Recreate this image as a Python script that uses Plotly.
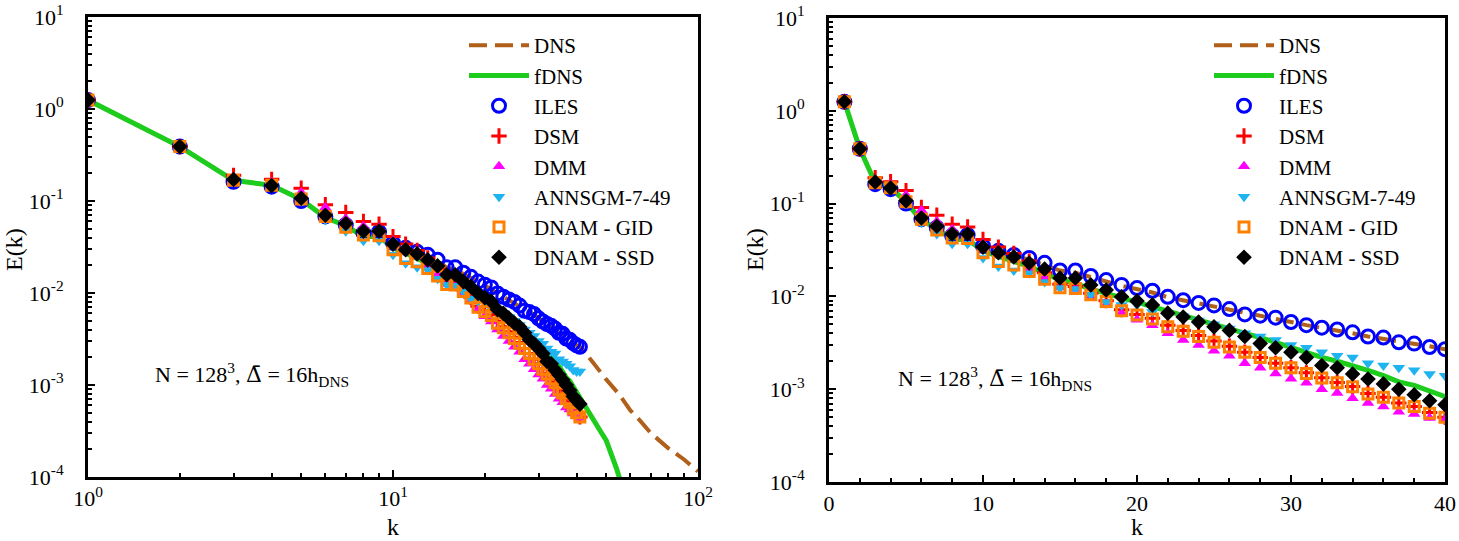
import plotly.graph_objects as go

# ---------------- data ----------------
k_models = list(range(1, 42))

ILES = [1.25, 0.39, 0.162, 0.143, 0.100, 0.068, 0.055, 0.045, 0.046, 0.035,
        0.031, 0.028, 0.026, 0.023, 0.019, 0.019, 0.0166, 0.015, 0.0133, 0.0123,
        0.0115, 0.0099, 0.0091, 0.0085, 0.0080, 0.0073, 0.0064, 0.0062, 0.0059, 0.0053,
        0.0049, 0.0046, 0.0044, 0.0041, 0.0037, 0.0036, 0.0032, 0.0031, 0.00285, 0.0027,
        0.0026]
DSM = [1.25, 0.39, 0.19, 0.172, 0.138, 0.091, 0.075, 0.060, 0.056, 0.041,
       0.034, 0.029, 0.024, 0.018, 0.0135, 0.0128, 0.0108, 0.0090, 0.0072, 0.0064,
       0.0058, 0.0049, 0.0043, 0.0038, 0.0033, 0.0029, 0.0025, 0.0022, 0.0019, 0.0017,
       0.0015, 0.00133, 0.00118, 0.00107, 0.00090, 0.00082, 0.00071, 0.00065, 0.00056, 0.00050,
       0.00045]
DMM = [1.25, 0.39, 0.18, 0.16, 0.124, 0.085, 0.064, 0.053, 0.051, 0.037,
       0.031, 0.025, 0.020, 0.016, 0.0125, 0.012, 0.0098, 0.0082, 0.0066, 0.0056,
       0.0049, 0.0040, 0.0034, 0.0030, 0.0026, 0.0023, 0.0019, 0.0017, 0.00148, 0.0013,
       0.00117, 0.0010, 0.00091, 0.00080, 0.00071, 0.00065, 0.00057, 0.00054, 0.00049, 0.00047,
       0.00044]
ANNSGM = [1.25, 0.39, 0.17, 0.145, 0.100, 0.062, 0.047, 0.037, 0.037, 0.026,
          0.021, 0.019, 0.0178, 0.0143, 0.0123, 0.012, 0.0104, 0.0087, 0.0081, 0.0081,
          0.0068, 0.0066, 0.0061, 0.0055, 0.0050, 0.0045, 0.0040, 0.0037, 0.0034, 0.0030,
          0.0028, 0.0025, 0.0023, 0.0022, 0.0019, 0.0018, 0.0017, 0.0016, 0.00146, 0.0014,
          0.0014]
GID = [1.25, 0.39, 0.168, 0.148, 0.105, 0.068, 0.052, 0.0427, 0.042, 0.0295,
       0.0237, 0.0218, 0.0185, 0.0153, 0.0124, 0.0122, 0.0104, 0.0088, 0.0070, 0.0063,
       0.0057, 0.0047, 0.0042, 0.0037, 0.0032, 0.00285, 0.0025, 0.0022, 0.0019, 0.0017,
       0.00148, 0.00132, 0.00117, 0.00106, 0.00089, 0.00082, 0.00071, 0.00065, 0.00055, 0.00050,
       0.00045]
SSD = [1.25, 0.39, 0.171, 0.147, 0.107, 0.070, 0.057, 0.047, 0.047, 0.034,
       0.0295, 0.0266, 0.0229, 0.0197, 0.0158, 0.0158, 0.0133, 0.0117, 0.0099, 0.0089,
       0.0081, 0.0066, 0.0060, 0.0053, 0.0047, 0.0043, 0.0037, 0.0031, 0.0028, 0.0025,
       0.0022, 0.0018, 0.0017, 0.00146, 0.00129, 0.00114, 0.0010, 0.00087, 0.00075, 0.00068,
       0.00062]

k_fdns = list(range(1, 43)) + [45, 48, 50, 52, 54, 56]
fDNS = [1.25, 0.39, 0.168, 0.148, 0.104, 0.066, 0.054, 0.041, 0.041, 0.031,
        0.027, 0.024, 0.021, 0.018, 0.015, 0.0138, 0.012, 0.0108, 0.0097, 0.0087,
        0.0078, 0.0069, 0.0062, 0.0055, 0.0050, 0.0045, 0.0040, 0.0036, 0.0032, 0.0028,
        0.0025, 0.0022, 0.0020, 0.0018, 0.0016, 0.0014, 0.0012, 0.0011, 0.00095, 0.00083,
        0.00072, 0.00063, 0.00043, 0.00031, 0.00025, 0.00018, 0.000125, 0.000085]

k_dns = list(range(1, 43)) + [45, 50, 55, 60, 65, 70, 80, 90, 100]
DNS = [1.25, 0.39, 0.168, 0.148, 0.104, 0.066, 0.054, 0.041, 0.041, 0.031,
       0.030, 0.027, 0.025, 0.022, 0.019, 0.018, 0.016, 0.0145, 0.013, 0.012,
       0.011, 0.0098, 0.0091, 0.0084, 0.0078, 0.0072, 0.0066, 0.0062, 0.0058, 0.0053,
       0.0049, 0.0046, 0.0043, 0.0040, 0.0037, 0.0035, 0.0033, 0.0031, 0.0029, 0.0027,
       0.0026, 0.0024, 0.0018, 0.00115, 0.0008, 0.00053, 0.0004, 0.0003, 0.000205, 0.000155,
       0.000115]

ytick_vals = [1e-4, 1e-3, 1e-2, 1e-1, 1, 10]
ytick_text = ["10<sup>-4</sup>", "10<sup>-3</sup>", "10<sup>-2</sup>",
              "10<sup>-1</sup>", "10<sup>0</sup>", "10<sup>1</sup>"]
xlog_vals = [1, 10, 100]
xlog_text = ["10<sup>0</sup>", "10<sup>1</sup>", "10<sup>2</sup>"]
xlin_vals = [0, 10, 20, 30, 40]
annot_text = ("N = 128<sup>3</sup>, "
              "<span style=\"font-family:DejaVu Serif\">\u0394\u0304</span>"
              " = 16h<sub>DNS</sub>")

# ---------------- styling ----------------
FONT = "Times New Roman, Liberation Serif, DejaVu Serif, serif"
C_DNS = "#B0601A"
C_FDNS = "#1ECC1E"
C_ILES = "#0000FF"
C_DSM = "#FF0000"
C_DMM = "#FF00FF"
C_ANN = "#1EB4F0"
C_GID = "#FF8000"
C_SSD = "#000000"

# figure pixel geometry (plot area spans both panels)
W, H = 1459, 541
ML, MR, MT, MB = 88, 14, 17, 59
PW, PH = W - ML - MR, H - MT - MB


def px(x):
    return (x - ML) / PW


def py(y):
    return (H - MB - y) / PH


fig = go.Figure()


def add_panel(xa, ya, leg):
    fig.add_trace(go.Scatter(x=k_dns, y=DNS, mode="lines", name="DNS",
                             line=dict(color=C_DNS, width=4, dash="18px,8px"),
                             xaxis=xa, yaxis=ya, legend=leg))
    fig.add_trace(go.Scatter(x=k_fdns, y=fDNS, mode="lines", name="fDNS",
                             line=dict(color=C_FDNS, width=5),
                             xaxis=xa, yaxis=ya, legend=leg))
    fig.add_trace(go.Scatter(x=k_models, y=ILES, mode="markers", name="ILES",
                             marker=dict(symbol="circle-open", size=13, color=C_ILES,
                                         line=dict(width=3, color=C_ILES)),
                             xaxis=xa, yaxis=ya, legend=leg))
    fig.add_trace(go.Scatter(x=k_models, y=DSM, mode="markers", name="DSM",
                             marker=dict(symbol="cross-thin-open", size=11, color=C_DSM,
                                         line=dict(width=3, color=C_DSM)),
                             xaxis=xa, yaxis=ya, legend=leg))
    fig.add_trace(go.Scatter(x=k_models, y=DMM, mode="markers", name="DMM",
                             marker=dict(symbol="triangle-up", size=11, color=C_DMM),
                             xaxis=xa, yaxis=ya, legend=leg))
    fig.add_trace(go.Scatter(x=k_models, y=ANNSGM, mode="markers", name="ANNSGM-7-49",
                             marker=dict(symbol="triangle-down", size=11, color=C_ANN),
                             xaxis=xa, yaxis=ya, legend=leg))
    fig.add_trace(go.Scatter(x=k_models, y=GID, mode="markers", name="DNAM - GID",
                             marker=dict(symbol="square-open", size=10, color=C_GID,
                                         line=dict(width=3, color=C_GID)),
                             xaxis=xa, yaxis=ya, legend=leg))
    fig.add_trace(go.Scatter(x=k_models, y=SSD, mode="markers", name="DNAM - SSD",
                             marker=dict(symbol="diamond", size=12, color=C_SSD),
                             xaxis=xa, yaxis=ya, legend=leg))


add_panel("x", "y", "legend")
add_panel("x2", "y2", "legend2")

ydecades_minor = [m * 10 ** e for e in range(-4, 1) for m in range(2, 10)]
xdecades_minor = [m * 10 ** e for e in range(0, 2) for m in range(2, 10)]

axis_common = dict(showline=True, linecolor="black", linewidth=3, mirror=True,
                   showgrid=False, zeroline=False, ticks="inside", tickcolor="black",
                   tickwidth=2, ticklen=7, automargin=False,
                   tickfont=dict(family=FONT, size=22, color="black"))

yaxis_common = dict(axis_common, type="log", range=[-4, 1], tickmode="array",
                    tickvals=ytick_vals, ticktext=ytick_text, ticklabelstandoff=17,
                    minor=dict(tickmode="array", tickvals=ydecades_minor, ticks="inside",
                               ticklen=4, tickwidth=2, tickcolor="black", showgrid=False))

LEG_FONT = dict(family=FONT, size=21, color="black")

fig.update_layout(
    width=W, height=H,
    margin=dict(l=ML, r=MR, t=MT, b=MB, autoexpand=False),
    paper_bgcolor="white", plot_bgcolor="white",
    font=dict(family=FONT, size=22, color="black"),
    xaxis=dict(axis_common, type="log", range=[0, 2], domain=[px(88), px(698)],
               tickmode="array", tickvals=xlog_vals, ticktext=xlog_text,
               ticklabelstandoff=0,
               minor=dict(tickmode="array", tickvals=xdecades_minor, ticks="inside",
                          ticklen=4, tickwidth=2, tickcolor="black", showgrid=False),
               anchor="y"),
    yaxis=dict(yaxis_common, domain=[py(477), py(17)], anchor="x"),
    xaxis2=dict(axis_common, type="linear", range=[0, 40], domain=[px(829), px(1445)],
                tickmode="array", tickvals=xlin_vals, ticklabelstandoff=0,
                minor=dict(dtick=2, tick0=0, ticks="inside", ticklen=4, tickwidth=2,
                           tickcolor="black", showgrid=False),
                anchor="y2"),
    yaxis2=dict(yaxis_common, domain=[py(482), py(18)], anchor="x2"),
    legend=dict(x=px(464), y=py(25), xanchor="left", yanchor="top",
                bgcolor="rgba(0,0,0,0)", itemwidth=60,
                font=LEG_FONT, tracegroupgap=0),
    legend2=dict(x=px(1209), y=py(25), xanchor="left", yanchor="top",
                 bgcolor="rgba(0,0,0,0)", itemwidth=60,
                 font=LEG_FONT, tracegroupgap=0),
    showlegend=True,
)

# annotation texts
fig.add_annotation(text=annot_text, x=px(252), y=py(374), xref="paper", yref="paper",
                   xanchor="center", yanchor="middle", showarrow=False,
                   font=dict(family=FONT, size=22, color="black"))
fig.add_annotation(text=annot_text, x=px(995), y=py(378), xref="paper", yref="paper",
                   xanchor="center", yanchor="middle", showarrow=False,
                   font=dict(family=FONT, size=22, color="black"))

# axis titles
for (tx, ty) in [(393, 527), (1137, 527)]:
    fig.add_annotation(text="k", x=px(tx), y=py(ty), xref="paper", yref="paper",
                       xanchor="center", yanchor="middle", showarrow=False,
                       font=dict(family=FONT, size=24, color="black"))
for (tx, ty) in [(14, 250), (755, 250)]:
    fig.add_annotation(text="E(k)", x=px(tx), y=py(ty), xref="paper", yref="paper",
                       xanchor="center", yanchor="middle", showarrow=False, textangle=-90,
                       font=dict(family=FONT, size=24, color="black"))

fig.write_html("out.html",
               config={"displayModeBar": False},
               post_script="document.body.style.margin='0';"
                           "document.body.style.overflow='hidden';")
